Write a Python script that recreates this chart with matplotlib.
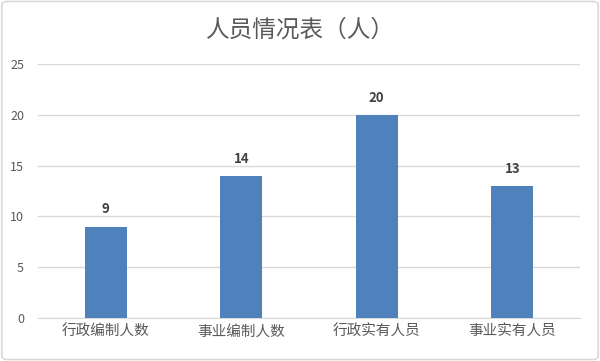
import matplotlib
matplotlib.use("Agg")
import matplotlib.pyplot as plt
from matplotlib.patches import FancyBboxPatch

plt.rcParams['font.family'] = ['Noto Sans CJK SC', 'DejaVu Sans']

categories = ['行政编制人数', '事业编制人数', '行政实有人员', '事业实有人员']
counts = [9, 14, 20, 13]
y_ticks = [0, 5, 10, 15, 20, 25]

text_color = '#595959'
bar_color = '#4F81BD'
grid_color = '#D9D9D9'

fig = plt.figure(figsize=(6.0, 3.61), dpi=100)

# light rounded frame around the whole chart
frame = FancyBboxPatch((0.003, 0.004), 0.994, 0.992, boxstyle='round,pad=0,rounding_size=0.01',
                       transform=fig.transFigure, facecolor='none', edgecolor='#D9D9D9',
                       linewidth=1.2, zorder=-1)
fig.patches.append(frame)

ax = fig.add_axes([0.0633, 0.1191, 0.9033, 0.7036])
ax.set_facecolor('none')

x = range(len(categories))
bars = ax.bar(x, counts, width=0.31, color=bar_color, zorder=3)

for rect, val in zip(bars, counts):
    ax.text(rect.get_x() + rect.get_width() / 2, val + 1.0, str(val),
            ha='center', va='bottom', fontsize=9.5, fontweight='semibold', color='#404040')

ax.set_xlim(-0.5, len(categories) - 0.5)
ax.set_ylim(0, 25)
ax.set_yticks(y_ticks)
ax.set_xticks(list(x))
ax.set_xticklabels(categories, fontsize=10.5, color=text_color)
ax.tick_params(axis='y', labelsize=9, colors=text_color, length=0, pad=10)
ax.tick_params(axis='x', length=0, pad=5)
ax.yaxis.grid(True, color=grid_color, linewidth=1, zorder=0)
ax.set_axisbelow(True)

for side in ['top', 'right', 'left']:
    ax.spines[side].set_visible(False)
ax.spines['bottom'].set_color(grid_color)

fig.text(0.5, 0.917, '人员情况表（人）', ha='center', va='center', fontsize=17, color=text_color)

fig.savefig('out.png', dpi=100)
